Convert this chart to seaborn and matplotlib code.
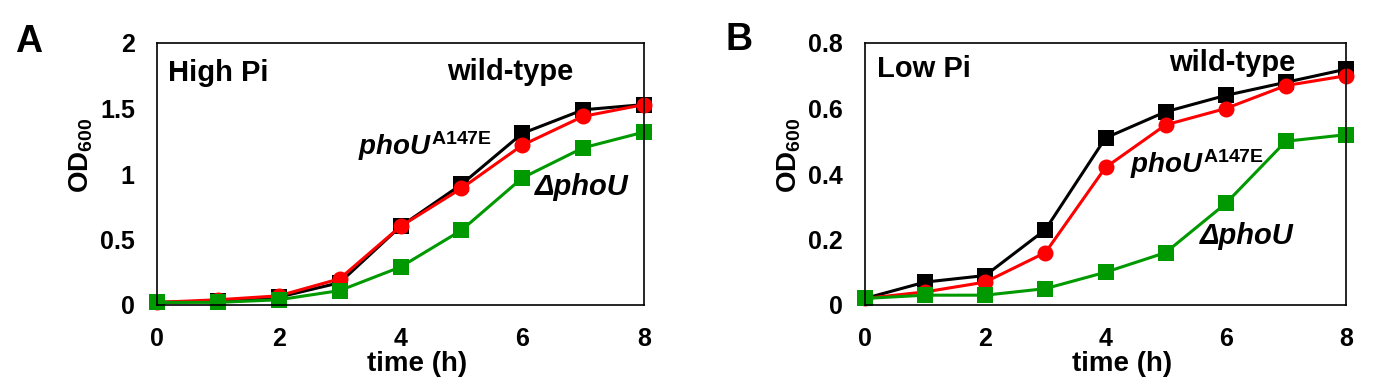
import numpy as np
import pandas as pd
import matplotlib
matplotlib.use("Agg")
import matplotlib.pyplot as plt
import seaborn as sns

# ---- data ----
time_h = [0, 1, 2, 3, 4, 5, 6, 7, 8]
strains = ["wild-type", "phoU A147E", "delta phoU"]

high_wt = [0.02, 0.03, 0.06, 0.17, 0.60, 0.92, 1.31, 1.49, 1.53]
high_a147e = [0.02, 0.04, 0.07, 0.20, 0.60, 0.89, 1.22, 1.44, 1.53]
high_delta = [0.02, 0.02, 0.04, 0.11, 0.29, 0.57, 0.97, 1.20, 1.32]

low_wt = [0.02, 0.07, 0.09, 0.23, 0.51, 0.59, 0.64, 0.68, 0.72]
low_a147e = [0.02, 0.04, 0.07, 0.16, 0.42, 0.55, 0.60, 0.67, 0.70]
low_delta = [0.02, 0.03, 0.03, 0.05, 0.10, 0.16, 0.31, 0.50, 0.52]

xticks = [0, 2, 4, 6, 8]
yticks_high = [0, 0.5, 1, 1.5, 2]
yticks_high_labels = ["0", "0.5", "1", "1.5", "2"]
yticks_low = [0, 0.2, 0.4, 0.6, 0.8]
yticks_low_labels = ["0", "0.2", "0.4", "0.6", "0.8"]

sns.set_theme(style="white")
plt.rcParams["font.family"] = ["Liberation Sans", "DejaVu Sans"]
plt.rcParams["font.weight"] = "bold"
plt.rcParams["text.color"] = "black"
plt.rcParams["axes.labelcolor"] = "black"
plt.rcParams["xtick.color"] = "black"
plt.rcParams["ytick.color"] = "black"
plt.rcParams["mathtext.fontset"] = "custom"
plt.rcParams["mathtext.rm"] = "Liberation Sans:bold"
plt.rcParams["mathtext.bf"] = "Liberation Sans:bold"
plt.rcParams["mathtext.it"] = "Liberation Sans:bold:italic"
plt.rcParams["mathtext.default"] = "rm"


def make_df(wt, a, d):
    rows = []
    for name, vals in zip(strains, [wt, a, d]):
        for t, v in zip(time_h, vals):
            rows.append({"time": t, "OD": v, "strain": name})
    return pd.DataFrame(rows)


df_high = make_df(high_wt, high_a147e, high_delta)
df_low = make_df(low_wt, low_a147e, low_delta)

palette = {"wild-type": "#000000", "phoU A147E": "#ff0000", "delta phoU": "#009900"}
markers = {"wild-type": "s", "phoU A147E": "o", "delta phoU": "s"}

fig = plt.figure(figsize=(13.9, 3.91), dpi=100)
axA = fig.add_axes([157 / 1390, 1 - 305 / 391, (644 - 157) / 1390, (305 - 43) / 391])
axB = fig.add_axes([865 / 1390, 1 - 305 / 391, (1346 - 865) / 1390, (305 - 43) / 391])

tick_fs = 18
for ax, df, yt, ytl, ymax in [
    (axA, df_high, yticks_high, yticks_high_labels, 2.0),
    (axB, df_low, yticks_low, yticks_low_labels, 0.8),
]:
    sns.lineplot(
        data=df, x="time", y="OD", hue="strain", style="strain",
        hue_order=strains, style_order=strains, palette=palette,
        markers=markers, dashes=False, markersize=11.5, markeredgewidth=0,
        linewidth=2.2, legend=False, ax=ax, clip_on=False,
    )
    ax.set_xlim(0, 8)
    ax.set_ylim(0, ymax)
    ax.set_xticks(xticks)
    ax.set_xticklabels([str(x) for x in xticks], fontsize=tick_fs, fontweight="bold")
    ax.set_yticks(yt)
    ax.set_yticklabels(ytl, fontsize=tick_fs, fontweight="bold")
    ax.tick_params(axis="both", length=0, pad=16)
    for s in ax.spines.values():
        s.set_color("black")
        s.set_linewidth(1.2)
    ax.set_xlabel("time (h)", fontsize=20, fontweight="bold")
    ax.set_ylabel("OD$_{600}$", fontsize=20, fontweight="bold")
    ax.xaxis.set_label_coords(0.535, -0.175)
    ax.yaxis.set_label_coords(-0.128, 0.573)

txt = dict(fontsize=21, fontweight="bold", va="center")
axA.text(0.18, 1.77, "High Pi", ha="left", **txt)
axA.text(5.8, 1.78, "wild-type", ha="center", **txt)
axA.text(3.3, 1.21, r"$\mathit{phoU}^{\mathrm{A147E}}$", ha="left", fontsize=20,
         fontweight="bold", va="center")
axA.text(6.2, 0.90, "\u0394phoU", ha="left", fontstyle="italic", **txt)

axB.text(0.2, 0.72, "Low Pi", ha="left", **txt)
axB.text(6.1, 0.74, "wild-type", ha="center", **txt)
axB.text(4.4, 0.43, r"$\mathit{phoU}^{\mathrm{A147E}}$", ha="left", fontsize=20,
         fontweight="bold", va="center")
axB.text(5.57, 0.21, "\u0394phoU", ha="left", fontstyle="italic", **txt)

fig.text(15 / 1390, 1 - 42 / 391, "A", fontsize=27, fontweight="bold", va="center", ha="left")
fig.text(725 / 1390, 1 - 40 / 391, "B", fontsize=27, fontweight="bold", va="center", ha="left")

fig.savefig("out.png", dpi=100)
